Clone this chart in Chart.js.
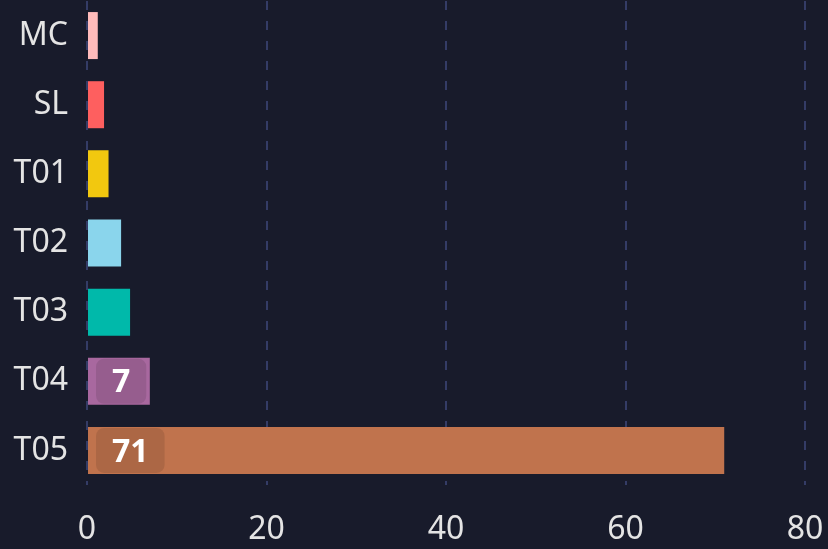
<!DOCTYPE html>
<html>
<head>
<meta charset="utf-8">
<script src="https://cdn.jsdelivr.net/npm/chart.js@4"></script>
<style>
  html, body { margin: 0; padding: 0; background: #181b2b; }
  #wrap { width: 828px; height: 549px; }
</style>
</head>
<body>
<div id="wrap"><canvas id="barChart" width="828" height="549"></canvas></div>
<script>
var categories = ['MC', 'SL', 'T01', 'T02', 'T03', 'T04', 'T05'];
var values = [1.2, 1.9, 2.4, 3.8, 4.8, 7, 71];
var barColors = ['#ffbbbb', '#fe5f5f', '#f2c80f', '#8ad5ec', '#00b9aa', '#a8689f', '#c0734d'];
var xTicks = [0, 20, 40, 60, 80];

// value boxes drawn at the start of the larger bars
var valueLabels = {
    id: 'valueLabels',
    afterDatasetsDraw: function (chart) {
        var ctx = chart.ctx;
        var meta = chart.getDatasetMeta(0);
        ctx.save();
        ctx.font = 'bold 32px "Noto Sans"';
        ctx.textBaseline = 'middle';
        ctx.textAlign = 'center';
        meta.data.forEach(function (bar, i) {
            if (values[i] < 5) return;
            var text = String(Math.round(values[i]));
            var tw = ctx.measureText(text).width;
            var w = tw + 32;
            var h = bar.height - 2;
            var x = bar.base + 8;
            var y = bar.y - h / 2;
            ctx.fillStyle = 'rgba(0, 0, 0, 0.1)';
            ctx.beginPath();
            ctx.roundRect(x, y, w, h, 8);
            ctx.fill();
            ctx.fillStyle = '#ffffff';
            ctx.fillText(text, x + w / 2, bar.y + 2);
        });
        ctx.restore();
    }
};

var ctx = document.getElementById('barChart').getContext('2d');
var chart = new Chart(ctx, {
    type: 'bar',
    data: {
        labels: categories,
        datasets: [{
            data: values,
            backgroundColor: barColors,
            borderWidth: 0,
            barPercentage: 0.68,
            categoryPercentage: 1
        }]
    },
    options: {
        indexAxis: 'y',
        responsive: false,
        animation: false,
        layout: { padding: { top: 1, right: 23, left: 0, bottom: 0 } },
        plugins: {
            legend: { display: false },
            tooltip: { enabled: false }
        },
        scales: {
            x: {
                min: 0,
                max: 80,
                afterBuildTicks: function (axis) {
                    axis.ticks = xTicks.map(function (v) { return { value: v }; });
                },
                afterFit: function (axis) {
                    axis.paddingLeft = 0;
                    axis.paddingRight = 0;
                    axis.height = 64;
                },
                border: { display: false, dash: [9, 11] },
                grid: { color: '#343c66', lineWidth: 2, drawTicks: false },
                ticks: {
                    color: '#e4e4e4',
                    padding: 26,
                    font: { family: 'Noto Sans', size: 32 }
                }
            },
            y: {
                afterFit: function (axis) {
                    axis.paddingTop = 0;
                    axis.paddingBottom = 0;
                    axis.width = 87;
                },
                border: { display: false },
                grid: { display: false, drawTicks: false },
                ticks: {
                    color: '#e4e4e4',
                    padding: 19,
                    font: { family: 'Noto Sans', size: 32 }
                }
            }
        }
    },
    plugins: [valueLabels]
});
</script>
</body>
</html>
